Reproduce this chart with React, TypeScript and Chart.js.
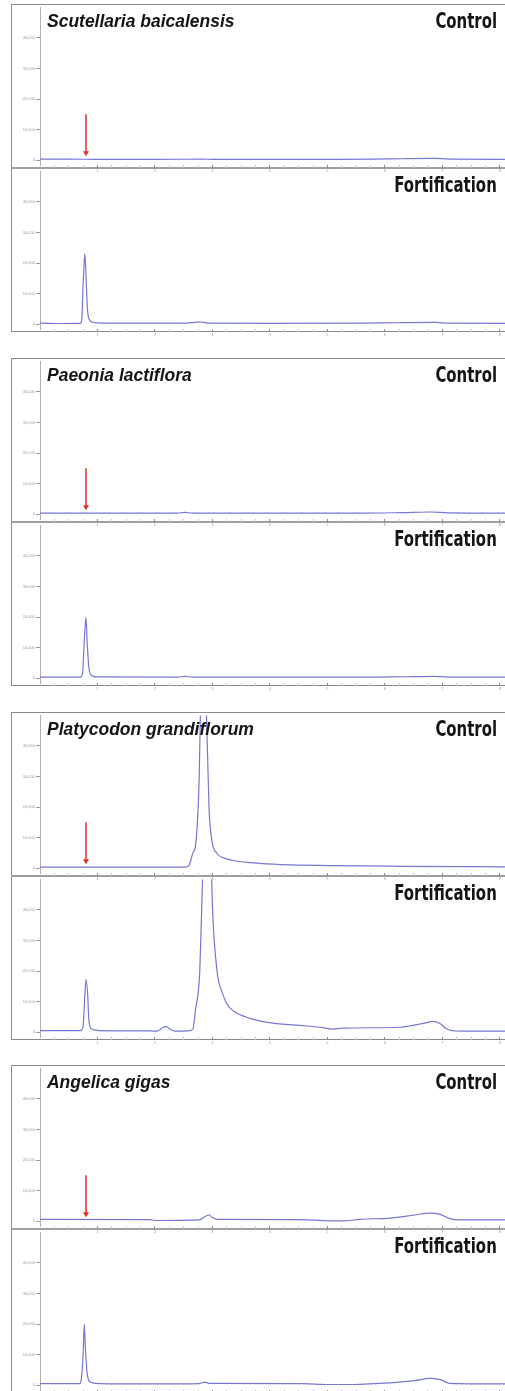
import React, { useEffect, useRef } from 'react';
import { Chart, registerables } from 'chart.js';

Chart.register(...registerables);

// ---------- data ----------
const species = ['Scutellaria baicalensis', 'Paeonia lactiflora', 'Platycodon grandiflorum', 'Angelica gigas'];
const panelLabels = ['Control', 'Fortification'];
const xTickValues = [1, 2, 3, 4, 5, 6, 7, 8];
const yTickValues = [0, 10000, 20000, 30000, 40000];
const xMin = 0;
const xMax = 8.09;
const yMin = -1600;
const yMax = 50000;
const arrowTime = 0.8;
const arrowTail = 15000;
const arrowHead = 1300;

type Pt = [number, number];

const scutellariaControl: Pt[] = [
  [0, 300], [0.5, 300], [1, 250], [2, 250], [2.8, 300], [3, 250], [4, 250], [5, 250],
  [5.8, 300], [6.3, 450], [6.9, 550], [7.2, 300], [8.09, 250],
];
const scutellariaFortified: Pt[] = [
  [0, 300], [0.4, 200], [0.7, 250], [0.725, 1200], [0.755, 15000], [0.78, 23100], [0.8, 16000],
  [0.825, 5000], [0.857, 1500], [0.92, 600], [1.0, 400], [1.5, 300], [2.5, 300], [2.7, 600],
  [2.8, 700], [2.95, 300], [4, 250], [5.6, 300], [6.2, 450], [6.9, 550], [7.1, 300], [8.09, 250],
];
const paeoniaControl: Pt[] = [
  [0, 300], [1, 300], [2.4, 300], [2.52, 600], [2.65, 300], [4, 300], [5.5, 300], [6.3, 500],
  [6.8, 700], [7.1, 400], [8.09, 300],
];
const paeoniaFortified: Pt[] = [
  [0, 300], [0.7, 300], [0.74, 1500], [0.77, 12000], [0.8, 19900], [0.82, 12000], [0.85, 3500],
  [0.9, 800], [1.0, 400], [2.4, 300], [2.52, 600], [2.65, 300], [4, 300], [5.5, 300], [6.3, 450],
  [6.85, 600], [7.1, 350], [8.09, 300],
];
const platycodonControl: Pt[] = [
  [0, 300], [1.04, 300], [2.52, 300], [2.59, 800], [2.66, 5000], [2.71, 8000], [2.77, 30000],
  [2.8, 60000], [2.84, 75000], [2.89, 55000], [2.94, 20000], [2.99, 9000], [3.08, 4800],
  [3.22, 3200], [3.36, 2500], [3.65, 1800], [3.95, 1400], [4.52, 1000], [5.1, 800], [6.26, 600],
  [8.09, 400],
];
const platycodonFortified: Pt[] = [
  [0, 500], [0.7, 500], [0.75, 2000], [0.78, 12000], [0.8, 17300], [0.83, 12000], [0.85, 4000],
  [0.9, 1000], [1.04, 500], [1.91, 400], [2.03, 300], [2.14, 1500], [2.19, 1900], [2.26, 1000],
  [2.35, 300], [2.57, 400], [2.66, 1000], [2.71, 8000], [2.75, 12500], [2.78, 20000],
  [2.82, 45000], [2.9, 90000], [2.98, 55000], [3.0, 41000], [3.08, 20000], [3.17, 13000],
  [3.25, 9300], [3.36, 7000], [3.65, 4500], [3.95, 3200], [4.52, 2200], [4.87, 1600],
  [5.1, 1000], [5.27, 1300], [6.26, 1600], [6.43, 2000], [6.7, 3000], [6.83, 3500], [6.96, 2800],
  [7.08, 1000], [7.3, 300], [8.09, 300],
];
const angelicaControl: Pt[] = [
  [0, 600], [1.91, 500], [2.0, 200], [2.78, 400], [2.87, 1500], [2.94, 2000], [3.0, 1200],
  [3.08, 600], [4.52, 500], [5.04, 100], [5.3, 100], [5.57, 600], [6.09, 1000], [6.52, 2000],
  [6.78, 2600], [6.96, 2200], [7.13, 800], [7.3, 400], [8.09, 400],
];
const angelicaFortified: Pt[] = [
  [0, 500], [0.69, 500], [0.71, 1000], [0.75, 10000], [0.77, 19900], [0.79, 12000], [0.82, 4000],
  [0.87, 1000], [1.04, 500], [1.91, 400], [2.78, 500], [2.87, 1000], [2.94, 600], [4.52, 500],
  [5.04, 200], [5.3, 200], [5.91, 600], [6.52, 1500], [6.78, 2200], [6.96, 1800], [7.13, 600],
  [8.09, 400],
];

const controlSeries = [scutellariaControl, paeoniaControl, platycodonControl, angelicaControl];
const fortifiedSeries = [scutellariaFortified, paeoniaFortified, platycodonFortified, angelicaFortified];

// ---------- layout ----------
const W = 505;
const H = 1391;
const FRAME_LEFT = 11;
const PANEL_H = 164;
const groupTops = [4, 358, 712, 1065];
const LINE_COLOR = '#7676d6';

function Panel({ top, points, arrow }: { top: number; points: Pt[]; arrow: boolean }) {
  const ref = useRef<HTMLCanvasElement | null>(null);
  useEffect(() => {
    const canvas = ref.current;
    if (!canvas) return;
    const arrowPlugin = {
      id: 'arrowMark',
      afterDatasetsDraw(chart: any) {
        if (!arrow) return;
        const { ctx, scales } = chart;
        const x = scales.x.getPixelForValue(arrowTime);
        const y1 = scales.y.getPixelForValue(arrowTail);
        const y2 = scales.y.getPixelForValue(arrowHead);
        ctx.save();
        ctx.strokeStyle = '#e0302c';
        ctx.fillStyle = '#e0302c';
        ctx.lineWidth = 1.5;
        ctx.beginPath();
        ctx.moveTo(x, y1);
        ctx.lineTo(x, y2 - 4);
        ctx.stroke();
        ctx.beginPath();
        ctx.moveTo(x - 3, y2 - 5);
        ctx.lineTo(x + 3, y2 - 5);
        ctx.lineTo(x, y2);
        ctx.closePath();
        ctx.fill();
        ctx.restore();
      },
    };
    const chart = new Chart(canvas, {
      type: 'line',
      data: {
        datasets: [
          {
            data: points.map(([x, y]) => ({ x, y })),
            borderColor: LINE_COLOR,
            borderWidth: 1.2,
            pointRadius: 0,
            fill: false,
            cubicInterpolationMode: 'monotone',
          },
        ],
      },
      options: {
        animation: false,
        responsive: false,
        maintainAspectRatio: false,
        events: [],
        layout: { padding: 0 },
        plugins: { legend: { display: false }, tooltip: { enabled: false }, title: { display: false } },
        scales: {
          x: {
            type: 'linear',
            min: xMin,
            max: xMax,
            afterBuildTicks: (s: any) => {
              const t: any[] = [];
              for (let k = 1; k * 0.25 <= 8; k++) t.push({ value: k * 0.25 });
              s.ticks = t;
            },
            afterFit: (s: any) => {
              s.height = 9;
            },
            grid: {
              drawOnChartArea: false,
              drawTicks: true,
              tickLength: 3,
              color: (c: any) => (c.tick && Number.isInteger(c.tick.value) ? '#8a8a8a' : '#c8c8c8'),
            },
            border: { display: false },
            ticks: {
              autoSkip: false,
              maxRotation: 0,
              padding: 0,
              font: { size: 4 },
              color: '#a0a0a0',
              callback: (v: any) => (xTickValues.includes(Number(v)) ? String(v) : ''),
            },
          },
          y: {
            type: 'linear',
            min: yMin,
            max: yMax,
            afterBuildTicks: (s: any) => {
              s.ticks = yTickValues.map((v) => ({ value: v }));
            },
            afterFit: (s: any) => {
              s.width = 29;
            },
            grid: { drawOnChartArea: false, tickLength: 4, color: '#9a9a9a' },
            border: { display: true, color: '#b0b0b0', width: 1 },
            ticks: { autoSkip: false, padding: 1, font: { size: 4 }, color: '#9a9a9a' },
          },
        },
      },
      plugins: [arrowPlugin],
    } as any);
    return () => chart.destroy();
  }, [points, arrow]);
  return (
    <canvas
      ref={ref}
      width={W - FRAME_LEFT}
      height={PANEL_H + 6}
      style={{ position: 'absolute', left: FRAME_LEFT, top, width: W - FRAME_LEFT, height: PANEL_H + 6, display: 'block' }}
    />
  );
}

const labelFont = "'Liberation Sans Narrow', 'DejaVu Sans Condensed', 'Roboto', sans-serif";
const speciesFont = "'Liberation Sans', Arial, sans-serif";

export default function App() {
  return (
    <div style={{ position: 'absolute', left: 0, top: 0, width: W, height: H, overflow: 'hidden', background: '#fff' }}>
      {groupTops.map((gt, i) => (
        <React.Fragment key={i}>
          <div
            style={{
              position: 'absolute',
              left: FRAME_LEFT,
              top: gt,
              width: W,
              height: PANEL_H * 2,
              borderLeft: '1px solid #8a8a8a',
              borderTop: '1px solid #8a8a8a',
              borderBottom: '1px solid #8a8a8a',
              boxSizing: 'border-box',
            }}
          />
          <div
            style={{
              position: 'absolute',
              left: FRAME_LEFT,
              top: gt + PANEL_H - 1,
              width: W,
              height: 2,
              background: '#a0a0a0',
            }}
          />
          <Panel top={gt} points={controlSeries[i]} arrow={true} />
          <Panel top={gt + PANEL_H} points={fortifiedSeries[i]} arrow={false} />
          <div
            style={{
              position: 'absolute',
              left: 47,
              top: gt + 6.5,
              font: `italic bold 19px/19px ${speciesFont}`,
              color: '#151515',
              whiteSpace: 'nowrap',
              transform: 'scaleX(0.92)',
              transformOrigin: 'left center',
            }}
          >
            {species[i]}
          </div>
          {panelLabels.map((lab, j) => (
            <div
              key={lab}
              style={{
                position: 'absolute',
                right: 8,
                top: gt + j * PANEL_H + 6.5,
                font: `bold 21px/21px ${labelFont}`,
                color: '#151515',
                whiteSpace: 'nowrap',
                transform: 'scaleX(0.79)',
                transformOrigin: 'right center',
              }}
            >
              {lab}
            </div>
          ))}
        </React.Fragment>
      ))}
    </div>
  );
}
